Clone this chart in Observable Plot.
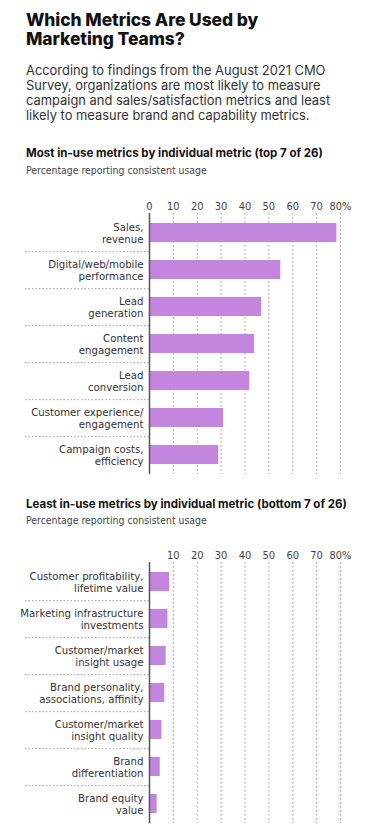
<!DOCTYPE html>
<html>
<head>
<meta charset="utf-8">
<script src="https://cdn.jsdelivr.net/npm/d3@7"></script>
<script src="https://cdn.jsdelivr.net/npm/@observablehq/plot@0.6"></script>
<style>
  html, body { margin: 0; padding: 0; background: #fff; }
  #root { position: relative; width: 372px; height: 828px; overflow: hidden; }
  .t { position: absolute; left: 26px; margin: 0; }
  #title { top: 11px; font-family: Inter, "Liberation Sans", sans-serif; font-weight: 800; font-size: 17.4px; line-height: 18.6px; color: #111; letter-spacing: -0.05px; }
  #sub { top: 63px; font-family: Inter, "Liberation Sans", sans-serif; font-size: 12.9px; line-height: 15px; color: #333; width: 346px; }
  .ct { font-family: Inter, "Liberation Sans", sans-serif; font-weight: 700; font-size: 11.5px; line-height: 14px; color: #111; white-space: nowrap; }
  .cs { font-family: "Liberation Sans Narrow", "DejaVu Sans Condensed", sans-serif; font-size: 10.4px; line-height: 14px; color: #444; white-space: nowrap; }
  .svgwrap { position: absolute; left: 0; }
</style>
</head>
<body>
<div id="root">
  <div class="t" id="title">Which Metrics Are Used by<br>Marketing Teams?</div>
  <div class="t" id="sub">According to findings from the August 2021 CMO<br>Survey, organizations are most likely to measure<br>campaign and sales/satisfaction metrics and least<br>likely to measure brand and capability metrics.</div>
  <div class="t ct" style="top:146px">Most in-use metrics by individual metric (top 7 of 26)</div>
  <div class="t cs" style="top:163px">Percentage reporting consistent usage</div>
  <div class="svgwrap" id="c1" style="top:190px"></div>
  <div class="t ct" style="top:497px">Least in-use metrics by individual metric (bottom 7 of 26)</div>
  <div class="t cs" style="top:513px">Percentage reporting consistent usage</div>
  <div class="svgwrap" id="c2" style="top:539px"></div>
</div>
<script>
const topMetrics = [
  "Sales,\nrevenue",
  "Digital/web/mobile\nperformance",
  "Lead\ngeneration",
  "Content\nengagement",
  "Lead\nconversion",
  "Customer experience/\nengagement",
  "Campaign costs,\nefficiency"
];
const topValues = [78.5, 55, 47, 44, 42, 31, 29];

const bottomMetrics = [
  "Customer profitability,\nlifetime value",
  "Marketing infrastructure\ninvestments",
  "Customer/market\ninsight usage",
  "Brand personality,\nassociations, affinity",
  "Customer/market\ninsight quality",
  "Brand\ndifferentiation",
  "Brand equity\nvalue"
];
const bottomValues = [8.4, 7.7, 7.0, 6.4, 5.2, 4.5, 3.2];

const topTicks = [0, 10, 20, 30, 40, 50, 60, 70, 80];
const bottomTicks = [10, 20, 30, 40, 50, 60, 70, 80];

const NARROW = '"Liberation Sans Narrow", "DejaVu Sans Condensed", sans-serif';

function chart(metrics, values, ticks) {
  const data = metrics.map((m, i) => ({metric: m, value: values[i]}));
  const width = 372, marginLeft = 149, marginRight = 32;
  const marginTop = 23, marginBottom = 2, height = 286;
  const pi = 0.49, po = 0.24;
  const step = (height - marginTop - marginBottom) / (metrics.length - pi + 2 * po);
  const xmax = 80;
  const pxPerUnit = (width - marginLeft - marginRight) / xmax;
  const sepLeft = -(marginLeft - 25) / pxPerUnit; // separator start, in data units (left margin)
  return Plot.plot({
    width,
    height,
    marginTop,
    marginBottom,
    marginLeft,
    marginRight,
    style: {fontFamily: NARROW, fontSize: "11px", color: "#444", background: "transparent", overflow: "visible"},
    x: {domain: [0, xmax], axis: "top", ticks, tickSize: 0, tickPadding: 4, label: null,
        tickFormat: d => d === 80 ? "80%" : String(d)},
    y: {domain: metrics, paddingInner: pi, paddingOuter: po, axis: null},
    marks: [
      Plot.ruleX(ticks.filter(t => t > 0), {stroke: "#9a9a9a", strokeDasharray: "1.5,2.5"}),
      Plot.ruleY(metrics.slice(0, -1), {y: d => d, x1: sepLeft, x2: 0, dy: step / 2,
        stroke: "#a0a0a0", strokeDasharray: "1.5,2"}),
      Plot.text(metrics, {y: d => d, x: 0, text: d => d, textAnchor: "end", dx: -6,
        fontSize: 11.3, lineHeight: 1.13, fill: "#333"}),
      Plot.barX(data, {x: "value", y: "metric", fill: "#c485df"}),
      Plot.ruleX([0], {stroke: "#555", strokeWidth: 1.5})
    ]
  });
}

document.getElementById("c1").append(chart(topMetrics, topValues, topTicks));
document.getElementById("c2").append(chart(bottomMetrics, bottomValues, bottomTicks));
</script>
</body>
</html>
